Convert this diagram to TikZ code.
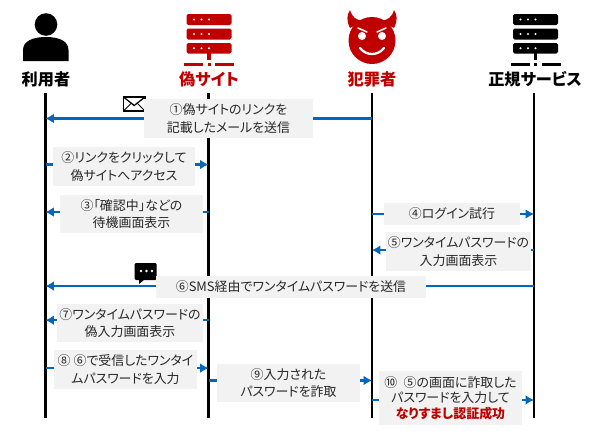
\documentclass[tikz,border=0pt]{standalone}
\usepackage{fontspec}
\usepackage{tikz}
\setmainfont[RawFeature=+palt]{Noto Sans CJK JP}
\definecolor{fakered}{RGB}{192, 0, 0}
\definecolor{arrowblue}{RGB}{0, 102, 190}
\definecolor{boxgray}{RGB}{242, 242, 242}
\usetikzlibrary{arrows.meta, calc}

\begin{document}
\begin{tikzpicture}[
    x=0.025cm, y=-0.025cm,
    msgbox/.style={fill=boxgray, inner sep=0pt, align=center, font=\fontsize{9.2}{12.2}\selectfont, text=black!85},
    actor/.style={font=\fontsize{11.5}{13}\selectfont\bfseries, inner sep=0pt, text=#1},
    lifeline/.style={line width=1.9pt, black},
    msg/.style={line width=1.5pt, arrowblue},
    msgtip/.style={msg, -{Latex[length=6pt, width=7pt]}},
    serverpic/.pic={
        \foreach \ytop/\ybot in {14/25, 28.5/39.5, 43/53.5} {
            \fill[#1, rounded corners=1.2pt] (-22.5,\ytop) rectangle (22.5,\ybot);
            \foreach \xdot in {-15,-7.5,0} \fill[white] (\xdot,\ytop/2+\ybot/2) circle (1.2);
        }
        \fill[#1] (-1.8,53) rectangle (1.8,60);
        \fill[#1] (-25,63) rectangle (-6,66);
        \fill[#1] (-1.5,63) rectangle (1.5,66);
        \fill[#1] (6,63) rectangle (25,66);
    }
]
    \useasboundingbox (0,0) rectangle (600,436);

    % lifelines
    \coordinate (userbot) at (45.5,417.5);
    \coordinate (fakebot) at (208.5,417.5);
    \coordinate (crimbot) at (372,417.5);
    \coordinate (realbot) at (534,417.5);

    \node[actor=black] (user) at (46,79) {利用者};
    \node[actor=fakered] (fake) at (209,79) {偽サイト};
    \node[actor=fakered] (crim) at (372,79) {犯罪者};
    \node[actor=black] (real) at (535,79) {正規サービス};

    \draw[lifeline] (userbot |- 0,93) -- (userbot);
    \draw[lifeline] (fakebot |- 0,93) -- (fakebot);
    \draw[lifeline] (crimbot |- 0,93) -- (crimbot);
    \draw[lifeline] (realbot |- 0,93) -- (realbot);

    % icons
    \fill (46,24.5) circle (11.3);
    \fill (23,61) -- (23,50) .. controls (23,41) and (33,37) .. (46,37) .. controls (59,37) and (68.5,41) .. (68.5,50) -- (68.5,61) -- cycle;
    \pic at (209,0) {serverpic=fakered};
    \pic at (535.5,0) {serverpic=black};

    \fill[fakered] (372,40.5) circle (23.5);
    \fill[fakered] (350,28) .. controls (346,20) and (347,15) .. (350,10) .. controls (352,17) and (356,20) .. (363,21) -- cycle;
    \fill[fakered] (394,28) .. controls (398,20) and (397,15) .. (394,10) .. controls (392,17) and (388,20) .. (381,21) -- cycle;
    \fill[white] (362,36) circle (4);
    \fill[white] (382,36) circle (4);
    \draw[white, line width=1.1pt, line cap=round] (358,28) -- (367,32);
    \draw[white, line width=1.1pt, line cap=round] (386,28) -- (377,32);
    \draw[white, line width=1.6pt, line cap=round] (360,48) .. controls (366,56) and (378,56) .. (384,48);

    % mail and sms
    \draw[black, fill=white, line width=0.9pt] (123.5,97) rectangle (145,111);
    \draw[black, line width=0.9pt] (123.5,97) -- (134.2,105.5) -- (145,97);
    \draw[black, line width=0.7pt] (123.5,111) -- (131,103.5) (145,111) -- (137.5,103.5);
    \fill[black, rounded corners=1pt] (134.5,263) rectangle (156.7,280);
    \fill[black] (139,279) -- (139,284) -- (145,279) -- cycle;
    \foreach \xdot in {141,146.5,152} \fill[white] (\xdot,271) circle (1.3);

    % messages
    \node[msgbox, minimum width=169pt*0.7087, minimum height=39pt*0.7087] (msgone) at (228.5,118.5) {①偽サイトのリンクを\\記載したメールを送信};
    \node[msgbox, minimum width=142pt*0.7087, minimum height=39pt*0.7087] (msgtwo) at (124,166.5) {②リンクをクリックして\\偽サイトへアクセス};
    \node[msgbox, minimum width=143pt*0.7087, minimum height=38pt*0.7087] (msgthree) at (131.5,214) {③「確認中」などの\\待機画面表示};
    \node[msgbox, minimum width=136pt*0.7087, minimum height=23pt*0.7087] (msgfour) at (452,214) {④ログイン試行};
    \node[msgbox, minimum width=145pt*0.7087, minimum height=39pt*0.7087] (msgfive) at (458.5,251.5) {⑤ワンタイムパスワードの\\入力画面表示};
    \node[msgbox, minimum width=270pt*0.7087, minimum height=22pt*0.7087] (msgsix) at (291,287) {⑥SMS経由でワンタイムパスワードを送信};
    \node[msgbox, minimum width=146pt*0.7087, minimum height=38pt*0.7087] (msgseven) at (130,323) {⑦ワンタイムパスワードの\\偽入力画面表示};
    \node[msgbox, minimum width=143pt*0.7087, minimum height=39pt*0.7087] (msgeight) at (125.5,369.5) {⑧ ⑥で受信したワンタイ\\ムパスワードを入力};
    \node[msgbox, minimum width=143pt*0.7087, minimum height=38pt*0.7087] (msgnine) at (288.5,383) {⑨入力された\\パスワードを詐取};
    \node[msgbox, minimum width=143pt*0.7087, minimum height=54pt*0.7087] (msgten) at (450.5,398) {⑩\enspace ⑤の画面に詐取した\\[-1pt]パスワードを入力して\\[-1pt]\textcolor{fakered}{\bfseries なりすまし認証成功}};

    \draw[msgtip] (msgone.west) -- (msgone.west -| userbot);
    \draw[msg] (msgone.east) -- (msgone.east -| crimbot);
    \draw[msg] ([yshift=1.4pt]msgtwo.west) -- ([yshift=1.4pt]msgtwo.west -| userbot);
    \draw[msgtip] ([yshift=1.4pt]msgtwo.east) -- ([yshift=1.4pt]msgtwo.east -| fakebot);
    \draw[msgtip] ([yshift=1.4pt]msgthree.west) -- ([yshift=1.4pt]msgthree.west -| userbot);
    \draw[msg] ([yshift=1.4pt]msgthree.east) -- ([yshift=1.4pt]msgthree.east -| fakebot);
    \draw[msg] (msgfour.west) -- (msgfour.west -| crimbot);
    \draw[msgtip] (msgfour.east) -- (msgfour.east -| realbot);
    \draw[msgtip] ([yshift=1pt]msgfive.west) -- ([yshift=1pt]msgfive.west -| crimbot);
    \draw[msg] ([yshift=1pt]msgfive.east) -- ([yshift=1pt]msgfive.east -| realbot);
    \draw[msgtip] ([yshift=0.7pt]msgsix.west) -- ([yshift=0.7pt]msgsix.west -| userbot);
    \draw[msg] ([yshift=0.7pt]msgsix.east) -- ([yshift=0.7pt]msgsix.east -| realbot);
    \draw[msgtip] ([yshift=2pt]msgseven.west) -- ([yshift=2pt]msgseven.west -| userbot);
    \draw[msg] ([yshift=2pt]msgseven.east) -- ([yshift=2pt]msgseven.east -| fakebot);
    \draw[msg] ([yshift=1pt]msgeight.west) -- ([yshift=1pt]msgeight.west -| userbot);
    \draw[msgtip] ([yshift=1pt]msgeight.east) -- ([yshift=1pt]msgeight.east -| fakebot);
    \draw[msg] ([yshift=1.8pt]msgnine.west) -- ([yshift=1.8pt]msgnine.west -| fakebot);
    \draw[msgtip] ([yshift=1.8pt]msgnine.east) -- ([yshift=1.8pt]msgnine.east -| crimbot);
    \draw[msg] ([yshift=-1.4pt]msgten.west) -- ([yshift=-1.4pt]msgten.west -| crimbot);
    \draw[msgtip] ([yshift=-1.4pt]msgten.east) -- ([yshift=-1.4pt]msgten.east -| realbot);
\end{tikzpicture}
\end{document}
